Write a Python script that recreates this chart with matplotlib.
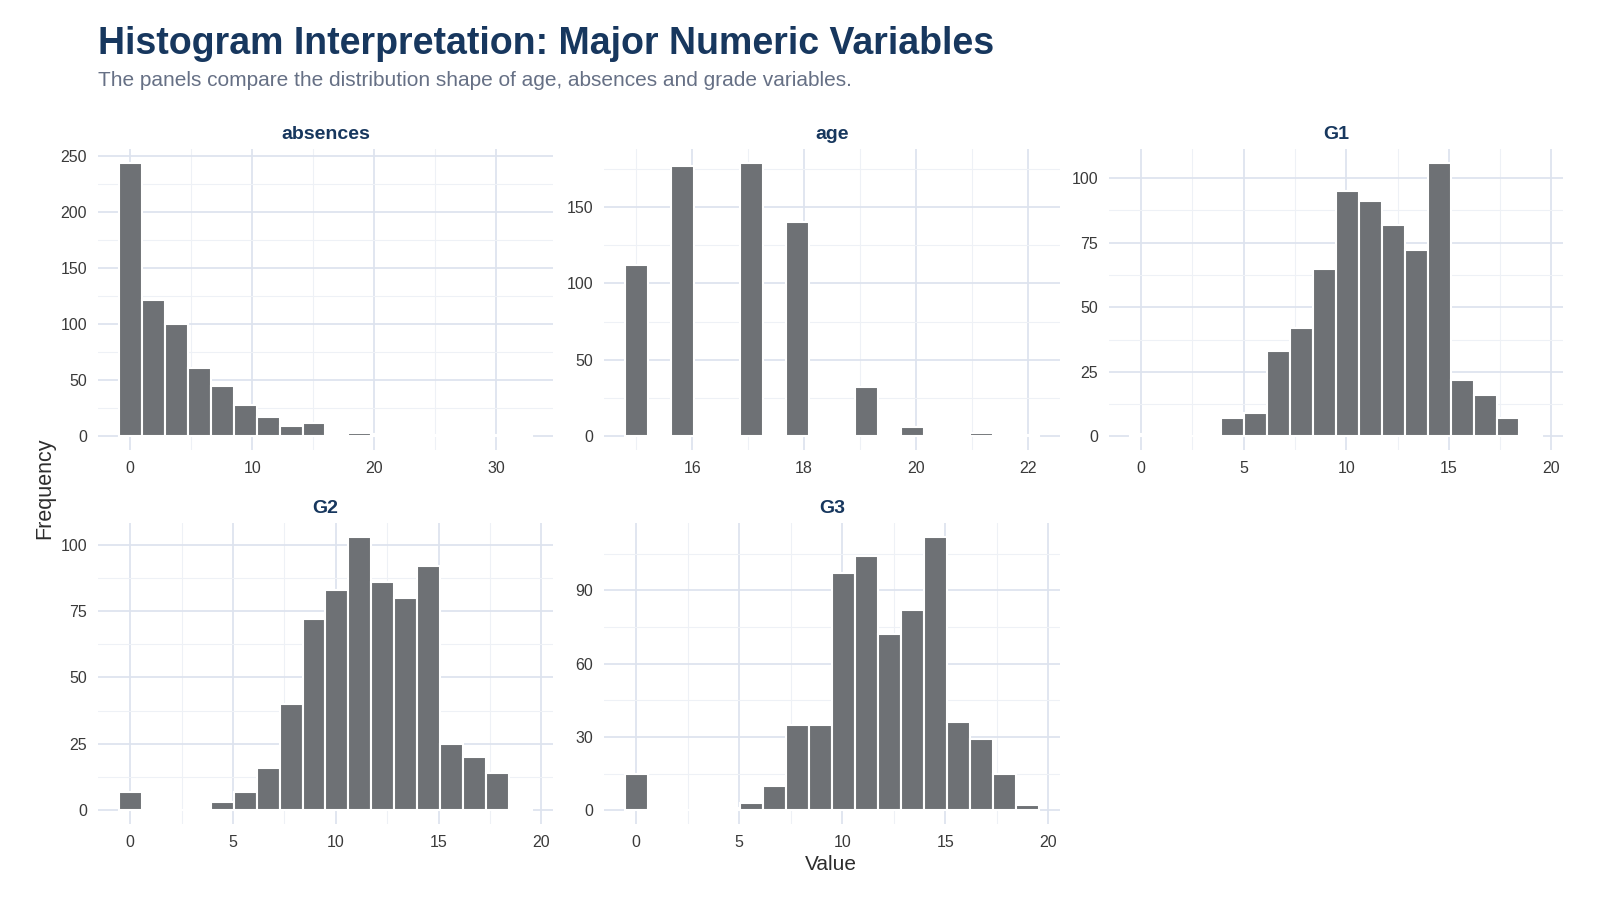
import numpy as np
import matplotlib
matplotlib.use("Agg")
import matplotlib.pyplot as plt
from matplotlib.ticker import FixedLocator

plt.rcParams['font.family'] = ['Liberation Sans', 'DejaVu Sans']

# ---- data (18 bins per variable, counts) ----
variables = ["absences", "age", "G1", "G2", "G3"]
ranges = {
    "absences": (0, 32),
    "age": (15, 22),
    "G1": (0, 19),
    "G2": (0, 19),
    "G3": (0, 19),
}
counts_absences = [244, 122, 100, 61, 45, 28, 17, 9, 12, 0, 3, 2, 2, 1, 1, 0, 1, 1]
counts_age = [112, 0, 177, 0, 0, 179, 0, 140, 0, 0, 32, 0, 6, 0, 0, 2, 0, 1]
counts_G1 = [1, 0, 0, 0, 7, 9, 33, 42, 65, 95, 91, 82, 72, 106, 22, 16, 7, 1]
counts_G2 = [7, 0, 0, 0, 3, 7, 16, 40, 72, 83, 103, 86, 80, 92, 25, 20, 14, 1]
counts_G3 = [15, 1, 0, 0, 1, 3, 10, 35, 35, 97, 104, 72, 82, 112, 36, 29, 15, 2]
counts = {"absences": counts_absences, "age": counts_age, "G1": counts_G1,
          "G2": counts_G2, "G3": counts_G3}

x_major = {"absences": [0, 10, 20, 30], "age": [16, 18, 20, 22],
           "G1": [0, 5, 10, 15, 20], "G2": [0, 5, 10, 15, 20], "G3": [0, 5, 10, 15, 20]}
y_major = {"absences": [0, 50, 100, 150, 200, 250], "age": [0, 50, 100, 150],
           "G1": [0, 25, 50, 75, 100], "G2": [0, 25, 50, 75, 100], "G3": [0, 30, 60, 90]}

title = "Histogram Interpretation: Major Numeric Variables"
subtitle = "The panels compare the distribution shape of age, absences and grade variables."

# ---- style ----
W, H = 1600, 900
NAVY = "#17375e"
BAR = "#6e7175"
MAJ = "#dde3ee"
MIN = "#eef1f6"
TICK = "#3a3a3a"

fig = plt.figure(figsize=(16, 9), dpi=100)
fig.patch.set_facecolor("white")

# panel boxes in pixels: left, top, right, bottom
boxes = {
    "absences": (98, 149, 553, 450),
    "age": (604, 149, 1060, 450),
    "G1": (1109, 149, 1563, 450),
    "G2": (98, 523, 553, 824),
    "G3": (604, 523, 1060, 824),
}

for var in variables:
    l, t, r, b = boxes[var]
    ax = fig.add_axes([l / W, 1 - b / H, (r - l) / W, (b - t) / H])
    lo, hi = ranges[var]
    c = np.array(counts[var])
    nb = len(c)
    w = (hi - lo) / (nb - 1)
    centers = lo + w * np.arange(nb)
    ax.bar(centers, c, width=w, color=BAR, edgecolor="white", linewidth=1.5, zorder=3)
    span = (hi + w / 2) - (lo - w / 2)
    ax.set_xlim(lo - w / 2 - 0.05 * span, hi + w / 2 + 0.05 * span)
    m = c.max()
    ax.set_ylim(-0.05 * m, 1.05 * m)

    xm = x_major[var]
    ym = y_major[var]
    dx = xm[1] - xm[0]
    dy = ym[1] - ym[0]
    xmin_ticks = [v + dx / 2 for v in [xm[0] - dx] + xm]
    ymin_ticks = [v + dy / 2 for v in ym]
    ax.xaxis.set_major_locator(FixedLocator(xm))
    ax.yaxis.set_major_locator(FixedLocator(ym))
    ax.xaxis.set_minor_locator(FixedLocator(xmin_ticks))
    ax.yaxis.set_minor_locator(FixedLocator(ymin_ticks))
    ax.grid(which="major", color=MAJ, linewidth=1.25, zorder=0)
    ax.grid(which="minor", color=MIN, linewidth=0.75, zorder=0)
    ax.set_axisbelow(True)
    for s in ax.spines.values():
        s.set_visible(False)
    ax.tick_params(which="both", length=0)
    ax.tick_params(axis="x", pad=8, labelsize=11.5, labelcolor=TICK)
    ax.tick_params(axis="y", pad=8, labelsize=11.5, labelcolor=TICK)
    ax.set_title(var, fontsize=14, fontweight="bold", color=NAVY, pad=7.5)

fig.text(98 / W, 1 - 54 / H, title, fontsize=27, fontweight="bold", color=NAVY,
         ha="left", va="baseline")
fig.text(98 / W, 1 - 86 / H, subtitle, fontsize=15, color="#667085",
         ha="left", va="baseline")
fig.text(45 / W, 1 - 488 / H, "Frequency", rotation=90, fontsize=15.5, color="#2d2d2d",
         ha="center", va="center")
fig.text(831 / W, 1 - 864 / H, "Value", fontsize=15, color="#2d2d2d",
         ha="center", va="center")

fig.savefig("out.png", dpi=100, facecolor="white")
